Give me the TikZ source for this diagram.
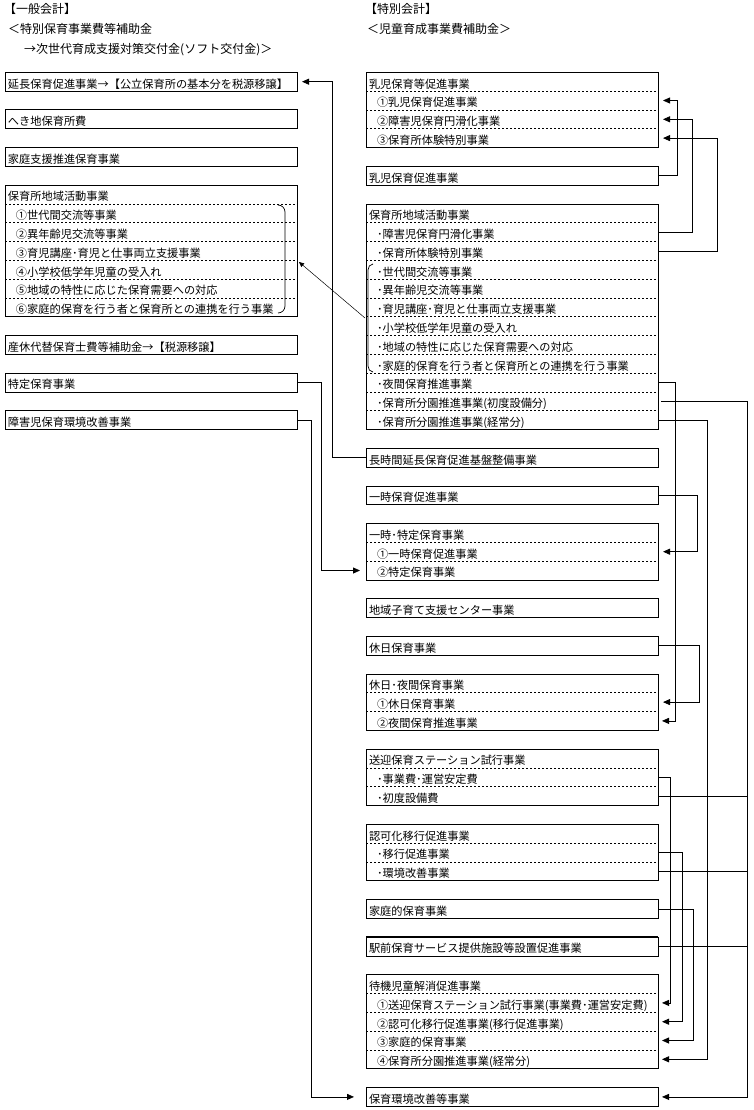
\documentclass[tikz,border=0pt]{standalone}
\usepackage{fontspec}
\setmainfont{Noto Sans CJK JP}
\usetikzlibrary{arrows.meta,fit}
\newcommand{\ind}{\hspace*{8pt}}
\begin{document}
\begin{tikzpicture}[x=1pt,y=-1pt,font=\fontsize{11.2}{13}\selectfont,
  rowc/.style={anchor=north west, inner xsep=3pt, inner ysep=0pt, outer sep=0pt,
    text width=286pt, text height=15.8pt, text depth=3pt, align=left},
  sbox/.style={rowc, draw, line width=0.8pt},
  boxf/.style={draw, line width=0.8pt, inner sep=0pt, outer sep=0pt},
  sepl/.style={line width=0.7pt, dash pattern=on 2.4pt off 1.6pt},
  conn/.style={line width=0.8pt},
  arr/.style={-{Triangle[length=7pt,width=6pt]}},
  thinarr/.style={line width=0.5pt,-{Triangle[length=5pt,width=4.5pt]}},
  hdr/.style={anchor=base west, inner sep=0pt, font=\fontsize{12}{14}\selectfont},
  brc/.style={line width=0.7pt}]
\fill[white] (0,0) rectangle (753,1110);
\useasboundingbox (0,0) rectangle (753,1110);

% headers
\node[hdr] (H1) at (4,14) {【一般会計】};
\node[hdr] (H2) at (8,34) {＜特別保育事業費等補助金};
\node[hdr] (H3) at (24,54) {→次世代育成支援対策交付金(ソフト交付金)＞};
\node[hdr] (H4) at (365,14) {【特別会計】};
\node[hdr] (H5) at (367,34) {＜児童育成事業費補助金＞};

% ---------------- left column ----------------
\node[sbox] (L1) at (5,{72.3}) {延長保育促進事業→【公立保育所の基本分を税源移譲】};
\node[sbox] (L2) at (5,{72.3+18.8*2}) {へき地保育所費};
\node[sbox] (L3) at (5,{72.3+18.8*4}) {家庭支援推進保育事業};
\node[rowc] (L4-0) at (5,{72.3+18.8*6}) {保育所地域活動事業};
\node[rowc] (L4-1) at (5,{72.3+18.8*7}) {\ind①世代間交流等事業};
\node[rowc] (L4-2) at (5,{72.3+18.8*8}) {\ind②異年齢児交流等事業};
\node[rowc] (L4-3) at (5,{72.3+18.8*9}) {\ind③育児講座･育児と仕事両立支援事業};
\node[rowc] (L4-4) at (5,{72.3+18.8*10}) {\ind④小学校低学年児童の受入れ};
\node[rowc] (L4-5) at (5,{72.3+18.8*11}) {\ind⑤地域の特性に応じた保育需要への対応};
\node[rowc] (L4-6) at (5,{72.3+18.8*12}) {\ind⑥家庭的保育を行う者と保育所との連携を行う事業};
\node[boxf, fit=(L4-0)(L4-6)] (L4) {};
\foreach \i in {0,...,5} \draw[sepl] (L4-\i.south west) -- (L4-\i.south east);
\node[sbox] (L5) at (5,{72.3+18.8*14}) {産休代替保育士費等補助金→【税源移譲】};
\node[sbox] (L6) at (5,{72.3+18.8*16}) {特定保育事業};
\node[sbox] (L7) at (5,{72.3+18.8*18}) {障害児保育環境改善事業};

% ---------------- right column ----------------
\node[rowc] (R1-0) at (366,{72.3}) {乳児保育等促進事業};
\node[rowc] (R1-1) at (366,{72.3+18.8*1}) {\ind①乳児保育促進事業};
\node[rowc] (R1-2) at (366,{72.3+18.8*2}) {\ind②障害児保育円滑化事業};
\node[rowc] (R1-3) at (366,{72.3+18.8*3}) {\ind③保育所体験特別事業};
\node[boxf, fit=(R1-0)(R1-3)] (R1) {};
\foreach \i in {0,...,2} \draw[sepl] (R1-\i.south west) -- (R1-\i.south east);

\node[sbox] (R2) at (366,{72.3+18.8*5}) {乳児保育促進事業};

\node[rowc] (R3-0) at (366,{72.3+18.8*7}) {保育所地域活動事業};
\node[rowc] (R3-1) at (366,{72.3+18.8*8}) {\ind･障害児保育円滑化事業};
\node[rowc] (R3-2) at (366,{72.3+18.8*9}) {\ind･保育所体験特別事業};
\node[rowc] (R3-3) at (366,{72.3+18.8*10}) {\ind･世代間交流等事業};
\node[rowc] (R3-4) at (366,{72.3+18.8*11}) {\ind･異年齢児交流等事業};
\node[rowc] (R3-5) at (366,{72.3+18.8*12}) {\ind･育児講座･育児と仕事両立支援事業};
\node[rowc] (R3-6) at (366,{72.3+18.8*13}) {\ind･小学校低学年児童の受入れ};
\node[rowc] (R3-7) at (366,{72.3+18.8*14}) {\ind･地域の特性に応じた保育需要への対応};
\node[rowc] (R3-8) at (366,{72.3+18.8*15}) {\ind･家庭的保育を行う者と保育所との連携を行う事業};
\node[rowc] (R3-9) at (366,{72.3+18.8*16}) {\ind･夜間保育推進事業};
\node[rowc] (R3-10) at (366,{72.3+18.8*17}) {\ind･保育所分園推進事業(初度設備分)};
\node[rowc] (R3-11) at (366,{72.3+18.8*18}) {\ind･保育所分園推進事業(経常分)};
\node[boxf, fit=(R3-0)(R3-11)] (R3) {};
\foreach \i in {0,...,10} \draw[sepl] (R3-\i.south west) -- (R3-\i.south east);

\node[sbox] (R4) at (366,{72.3+18.8*20}) {長時間延長保育促進基盤整備事業};
\node[sbox] (R5) at (366,{72.3+18.8*22}) {一時保育促進事業};

\node[rowc] (R6-0) at (366,{72.3+18.8*24}) {一時･特定保育事業};
\node[rowc] (R6-1) at (366,{72.3+18.8*25}) {\ind①一時保育促進事業};
\node[rowc] (R6-2) at (366,{72.3+18.8*26}) {\ind②特定保育事業};
\node[boxf, fit=(R6-0)(R6-2)] (R6) {};
\foreach \i in {0,1} \draw[sepl] (R6-\i.south west) -- (R6-\i.south east);

\node[sbox] (R7) at (366,{72.3+18.8*28}) {地域子育て支援センター事業};
\node[sbox] (R8) at (366,{72.3+18.8*30}) {休日保育事業};

\node[rowc] (R9-0) at (366,{72.3+18.8*32}) {休日･夜間保育事業};
\node[rowc] (R9-1) at (366,{72.3+18.8*33}) {\ind①休日保育事業};
\node[rowc] (R9-2) at (366,{72.3+18.8*34}) {\ind②夜間保育推進事業};
\node[boxf, fit=(R9-0)(R9-2)] (R9) {};
\foreach \i in {0,1} \draw[sepl] (R9-\i.south west) -- (R9-\i.south east);

\node[rowc] (R10-0) at (366,{72.3+18.8*36}) {送迎保育ステーション試行事業};
\node[rowc] (R10-1) at (366,{72.3+18.8*37}) {\ind･事業費･運営安定費};
\node[rowc] (R10-2) at (366,{72.3+18.8*38}) {\ind･初度設備費};
\node[boxf, fit=(R10-0)(R10-2)] (R10) {};
\foreach \i in {0,1} \draw[sepl] (R10-\i.south west) -- (R10-\i.south east);

\node[rowc] (R11-0) at (366,{72.3+18.8*40}) {認可化移行促進事業};
\node[rowc] (R11-1) at (366,{72.3+18.8*41}) {\ind･移行促進事業};
\node[rowc] (R11-2) at (366,{72.3+18.8*42}) {\ind･環境改善事業};
\node[boxf, fit=(R11-0)(R11-2)] (R11) {};
\foreach \i in {0,1} \draw[sepl] (R11-\i.south west) -- (R11-\i.south east);

\node[sbox] (R12) at (366,{72.3+18.8*44}) {家庭的保育事業};
\node[sbox] (R13) at (366,{72.3+18.8*46}) {駅前保育サービス提供施設等設置促進事業};
\draw[line width=1.6pt] (R13.north west) -- (R13.north east);

\node[rowc] (R14-0) at (366,{72.3+18.8*48}) {待機児童解消促進事業};
\node[rowc] (R14-1) at (366,{72.3+18.8*49}) {\ind①送迎保育ステーション試行事業(事業費･運営安定費)};
\node[rowc] (R14-2) at (366,{72.3+18.8*50}) {\ind②認可化移行促進事業(移行促進事業)};
\node[rowc] (R14-3) at (366,{72.3+18.8*51}) {\ind③家庭的保育事業};
\node[rowc] (R14-4) at (366,{72.3+18.8*52}) {\ind④保育所分園推進事業(経常分)};
\node[boxf, fit=(R14-0)(R14-4)] (R14) {};
\foreach \i in {0,...,3} \draw[sepl] (R14-\i.south west) -- (R14-\i.south east);

\node[sbox] (R15) at (366,{72.3+18.8*54}) {保育環境改善等事業};

% ---------------- braces ----------------
\draw[brc] (278,205) to[out=0,in=90] (285,212) -- (285,306) to[out=-90,in=0] (278,313);
\draw[brc] (373,264) to[out=180,in=90] (368,270) -- (368,366) to[out=-90,in=180] (373,372);
\coordinate (rb) at (365,318);
\coordinate (lb) at (299,262);
\draw[thinarr] (rb) -- (lb);

% ---------------- connectors ----------------
\draw[conn,arr] (R4.west) -- ++(-34,0) |- ([xshift=5pt]L1.east);
\draw[conn,arr] (R2.east) -- ++(19,0) |- ([xshift=5pt]R1-1.east);
\draw[conn,arr] (R3-1.east) -- ++(34,0) |- ([xshift=5pt]R1-2.east);
\draw[conn,arr] (R3-2.east) -- ++(59,0) |- ([xshift=5pt]R1-3.east);
\draw[conn,arr] (R3-9.east) -- ++(17,0) |- ([xshift=4pt]R9-2.east);
\draw[conn,arr] ([xshift=3pt]R3-10.east) -- ++(86,0) |- ([xshift=4pt]R15.east);
\draw[conn,arr] (R3-11.east) -- ++(49,0) |- ([xshift=4pt]R14-4.east);
\draw[conn,arr] (R5.east) -- ++(39,0) |- ([xshift=5pt]R6-1.east);
\draw[conn,arr] (L6.east) -- ++(24,0) |- ([xshift=-6pt]R6-2.west);
\draw[conn,arr] (L7.east) -- ++(14,0) |- ([xshift=-12pt]R15.west);
\draw[conn,arr] (R8.east) -- ++(41,0) |- ([xshift=5pt]R9-1.east);
\draw[conn,arr] (R10-1.east) -- ++(12,0) |- ([xshift=4pt]R14-1.east);
\coordinate (trunk) at (747,0);
\draw[conn] (R10-2.east) -- (R10-2.east -| trunk);
\draw[conn,arr] (R11-1.east) -- ++(24,0) |- ([xshift=4pt]R14-2.east);
\draw[conn] (R11-2.east) -- (R11-2.east -| trunk);
\draw[conn,arr] (R12.east) -- ++(35,0) |- ([xshift=4pt]R14-3.east);
\draw[conn] (R13.east) -- (R13.east -| trunk);
\end{tikzpicture}
\end{document}
